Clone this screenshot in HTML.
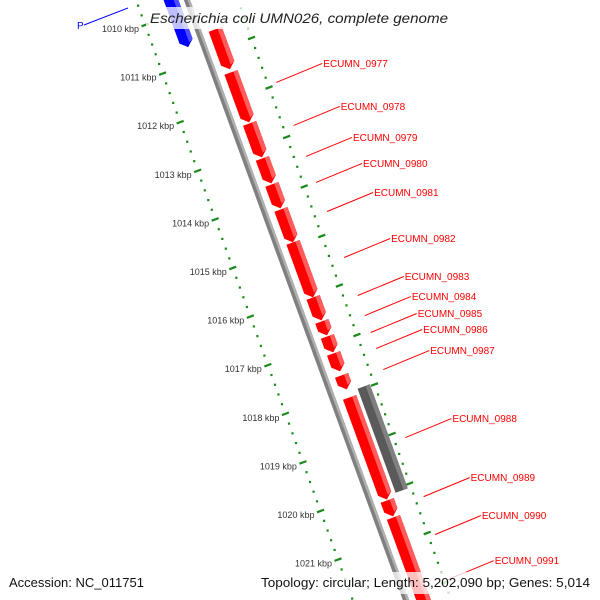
<!DOCTYPE html>
<html><head><meta charset="utf-8"><style>
html,body{margin:0;padding:0;background:#fff;width:600px;height:600px;overflow:hidden}
svg{display:block;overflow:hidden}
</style></head><body>
<svg id="map" width="600" height="600" viewBox="0 0 600 600" xmlns="http://www.w3.org/2000/svg" font-family="'Liberation Sans', 'DejaVu Sans', sans-serif"></svg>
<script>
// ---- data ----
const tickKbp = [1009, 1010, 1011, 1012, 1013, 1014, 1015, 1016, 1017, 1018, 1019, 1020, 1021, 1022];
const fwdStarts = [1010103, 1010988, 1012037, 1012758, 1013293, 1013807, 1014486, 1015618, 1016112, 1016421, 1016771, 1017223, 1017676, 1019796, 1020146];
const fwdEnds   = [1010926, 1012017, 1012737, 1013272, 1013787, 1014486, 1015618, 1016091, 1016400, 1016750, 1017141, 1017512, 1019776, 1020125, 1022040];
const otherStarts = [1017573];
const otherEnds = [1019714];
const revStarts = [1009100];
const revEnds = [1010247];
const geneNames = ['ECUMN_0977','ECUMN_0978','ECUMN_0979','ECUMN_0980','ECUMN_0981','ECUMN_0982','ECUMN_0983','ECUMN_0984','ECUMN_0985','ECUMN_0986','ECUMN_0987','ECUMN_0988','ECUMN_0989','ECUMN_0990','ECUMN_0991'];
const labelAnchorBp = [1011182, 1012067, 1012705, 1013240, 1013837, 1014784, 1015566, 1015978, 1016327, 1016656, 1017089, 1018489, 1019704, 1020486, 1021413];

// ---- scales ----
const NS = 'http://www.w3.org/2000/svg';
const svg = document.getElementById('map');
const K = 0.365, SN = 0.343, CS = 0.939;
function cx(y){ return 187 + K*y; }
function yL(bp){ return 25 + (bp - 1010000)/1000*48.6; }
function yR(bp){ return 38 + (bp - 1010000)/1000*49.5; }
function yF(bp){ return yL(bp) + 5; }
function P(s,d){ return [cx(s) + d*CS, s - d*SN]; }
function labelCorr(y){ const u = (y-330)/260; return Math.max(0, 9*(1-u*u)); }
function mk(tag, attrs, parent){
  const e = document.createElementNS(NS, tag);
  for (const k in attrs) e.setAttribute(k, attrs[k]);
  (parent||svg).appendChild(e);
  return e;
}
function pts(a){ return a.map(p=>p[0].toFixed(1)+','+p[1].toFixed(1)).join(' '); }

// ---- rulers ----
const gL = mk('g', {});


const gR = mk('g', {});


for (let i=0;i<tickKbp.length;i++){
  for (let j=0;j<5;j++){
    const bp = tickKbp[i]*1000 + j*200;
    let y = yL(bp);
    if (y>-10 && y<600){
      let x = cx(y) - 51 - 0.004*y;
      let m;
      if (j===0){
        m = mk('line', {x1:x-3.5, y1:y+1.3, x2:x+3.5, y2:y-1.3, stroke:'#1a8a1a', 'stroke-width':2.2}, gL);
        
        
        const t = mk('text', {x:x-6, y:y+7, 'text-anchor':'end', 'font-size':9, fill:'#333'}, gL);
        t.textContent = tickKbp[i] + ' kbp';
        
        
      } else {
        m = mk('rect', {x:x-1, y:y-1, width:2.2, height:2.2, fill:'#1a8a1a'}, gL);
        
        
      }
    }
    y = yR(bp);
    if (y>-10 && y<600){
      let x = cx(y) + 51 - 0.01*y;
      let m;
      if (j===0){
        m = mk('line', {x1:x-3.5, y1:y+1.3, x2:x+3.5, y2:y-1.3, stroke:'#1a8a1a', 'stroke-width':2.2}, gR);
        
        
      } else {
        m = mk('rect', {x:x-1, y:y-1, width:2.2, height:2.2, fill:'#1a8a1a'}, gR);
        
        
      }
    }
  }
}

// ---- backbone ----
const bb = mk('polygon', {points: pts([P(-20,-3),P(-20,3),P(610,3),P(610,-3)]), fill:'#808080'});


mk('polygon', {points: pts([P(-20,0.5),P(-20,3),P(610,3),P(610,0.5)]), fill:'#b0b0b0'});

// ---- features ----
function feature(s0, s1, d0, d1, col, light, arrowDir, name){
  const a = 6, dm = (d0+d1)/2;
  let poly;
  if (arrowDir>0) poly = [P(s0,d0),P(s0,d1),P(s1-a,d1),P(s1,dm),P(s1-a,d0)];
  else poly = [P(s0,d0),P(s0,d1),P(s1,d1),P(s1,d0)];
  const g = mk('g', {});
  
  
  mk('polygon', {points: pts(poly), fill: col}, g);
  const dl = d1 - 4.5;
  let hp;
  if (arrowDir>0) hp = [P(s0,dl),P(s0,d1),P(s1-a,d1),P(s1-a*(d1-dl)/(d1-dm),dl)];
  else hp = [P(s0,dl),P(s0,d1),P(s1,d1),P(s1,dl)];
  mk('polygon', {points: pts(hp), fill: light}, g);
}
for (let i=0;i<fwdStarts.length;i++){
  feature(yF(fwdStarts[i]), yF(fwdEnds[i]), 9.5, 23.5, '#ff0000', '#ff5c5c', 1, 'gene-' + geneNames[i].toLowerCase());
}
for (let i=0;i<otherStarts.length;i++){
  feature(yF(otherStarts[i]), yF(otherEnds[i]), 27, 40, '#5a5a5a', '#808080', 0, 'gray-feature');
}
for (let i=0;i<revStarts.length;i++){
  feature(yF(revStarts[i]), yF(revEnds[i]), -22, -8, '#0000ff', '#4d4dff', 1, 'reverse-feature-p');
}

// ---- labels ----
for (let i=0;i<geneNames.length;i++){
  const y = yL(labelAnchorBp[i]);
  const x = cx(y) + 60 - 0.02*y + labelCorr(y);
  const l = mk('line', {x1:x, y1:y, x2:x+46, y2:y-19, stroke:'#ff0000', 'stroke-width':1});
  
  
  const t = mk('text', {x:x+47, y:y-15.5, 'font-size':10, fill:'#ff0000'});
  t.textContent = geneNames[i];
  
  
}
const pl = mk('line', {x1:84, y1:25, x2:128, y2:8, stroke:'#0000ff', 'stroke-width':1});


const pt = mk('text', {x:77, y:29, 'font-size':10, fill:'#0000ff'});
pt.textContent = 'P';



// ---- title & footer ----
const tb = mk('rect', {x:146, y:7, width:306, height:22, fill:'#fff', 'fill-opacity':0.75});


const tt = mk('text', {x:150, y:23, 'font-size':14, 'font-style':'italic', fill:'#222', textLength:298, lengthAdjust:'spacingAndGlyphs'});
tt.textContent = 'Escherichia coli UMN026, complete genome';


const fb = mk('rect', {x:0, y:572, width:600, height:22, fill:'#fff', 'fill-opacity':0.75});


const fa = mk('text', {x:9, y:587, 'font-size':13, fill:'#111', textLength:135, lengthAdjust:'spacingAndGlyphs'});
fa.textContent = 'Accession: NC_011751';


const ft = mk('text', {x:261, y:587, 'font-size':13, fill:'#111', textLength:329, lengthAdjust:'spacingAndGlyphs'});
ft.textContent = 'Topology: circular; Length: 5,202,090 bp; Genes: 5,014';


</script>
</body></html>
